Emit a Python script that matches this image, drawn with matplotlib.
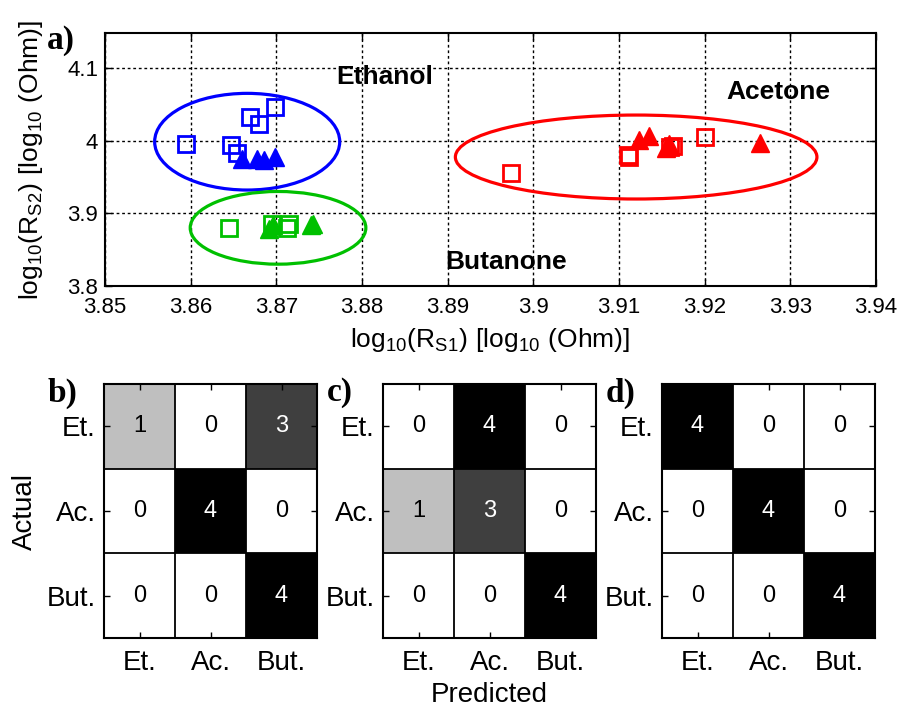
import numpy as np
import matplotlib
matplotlib.use("Agg")
import matplotlib.pyplot as plt
from matplotlib.patches import Ellipse
from matplotlib.ticker import FormatStrFormatter

plt.rcParams['font.family'] = ['Liberation Sans', 'DejaVu Sans']
plt.rcParams['mathtext.fontset'] = 'custom'
plt.rcParams['mathtext.rm'] = 'Liberation Sans'

# ---- panel a) sensor responses ----
eth_sq_x = [3.8594, 3.8647, 3.8654, 3.8669, 3.8680, 3.8698]
eth_sq_y = [3.9949, 3.9940, 3.9825, 4.0329, 4.0228, 4.0458]
eth_tr_x = [3.8660, 3.8677, 3.8686, 3.8699]
eth_tr_y = [3.9747, 3.9740, 3.9733, 3.9780]

ace_sq_x = [3.8974, 3.9111, 3.9112, 3.9160, 3.9163, 3.9200]
ace_sq_y = [3.9559, 3.9802, 3.9770, 3.9916, 3.9930, 4.0045]
ace_tr_x = [3.9123, 3.9135, 3.9158, 3.9155, 3.9265]
ace_tr_y = [4.0008, 4.0060, 3.9950, 3.9900, 3.9963]

but_sq_x = [3.8645, 3.8695, 3.8712, 3.8715]
but_sq_y = [3.8800, 3.8850, 3.8800, 3.8850]
but_tr_x = [3.8691, 3.8696, 3.8740, 3.8743]
but_tr_y = [3.8790, 3.8840, 3.8840, 3.8850]

# cluster ellipses: center x, center y, width, height
ell_eth = (3.8666, 3.9985, 0.0216, 0.133)
ell_ace = (3.9120, 3.9774, 0.0422, 0.1155)
ell_but = (3.8702, 3.8800, 0.0205, 0.100)

col_eth = '#0000ff'
col_ace = '#ff0000'
col_but = '#00c000'

x_ticks = [3.85, 3.86, 3.87, 3.88, 3.89, 3.90, 3.91, 3.92, 3.93, 3.94]
y_ticks = [3.8, 3.9, 4.0, 4.1]

# ---- panels b), c), d) confusion matrices ----
classes = ['Et.', 'Ac.', 'But.']
cm_b = [[1, 0, 3], [0, 4, 0], [0, 0, 4]]
cm_c = [[0, 4, 0], [1, 3, 0], [0, 0, 4]]
cm_d = [[4, 0, 0], [0, 4, 0], [0, 0, 4]]

fig = plt.figure(figsize=(9.01, 7.07), dpi=100)

ax = fig.add_axes([0.1165, 0.5955, 0.8558, 0.3578])
groups = [
    (eth_sq_x, eth_sq_y, eth_tr_x, eth_tr_y, col_eth, ell_eth),
    (ace_sq_x, ace_sq_y, ace_tr_x, ace_tr_y, col_ace, ell_ace),
    (but_sq_x, but_sq_y, but_tr_x, but_tr_y, col_but, ell_but),
]
for sx, sy, tx, ty, c, e in groups:
    ax.add_patch(Ellipse((e[0], e[1]), e[2], e[3], fill=False,
                         edgecolor=c, linewidth=2.3, zorder=3))
    ax.plot(sx, sy, 's', markersize=11, markerfacecolor='none',
            markeredgecolor=c, markeredgewidth=2.0, zorder=4)
    ax.plot(tx, ty, '^', markersize=13, color=c, zorder=4)

ax.set_xlim(3.85, 3.94)
ax.set_ylim(3.8, 4.148)
ax.set_xticks(x_ticks)
ax.set_yticks(y_ticks)
ax.xaxis.set_major_formatter(FormatStrFormatter('%g'))
ax.yaxis.set_major_formatter(FormatStrFormatter('%g'))
ax.grid(True, color='black', linestyle=(0, (2, 2)), linewidth=1.0)
ax.tick_params(direction='in', top=True, right=True, labelsize=16,
               length=5, width=1.0)
ax.tick_params(axis='x', pad=8)
ax.tick_params(axis='y', pad=5)
for s in ax.spines.values():
    s.set_linewidth(1.5)
ax.set_xlabel(r'$\mathregular{log_{10}(R_{S1})\ [log_{10}\ (Ohm)]}$',
              fontsize=19, labelpad=6)
ax.set_ylabel(r'$\mathregular{log_{10}(R_{S2})\ [log_{10}\ (Ohm)]}$',
              fontsize=19, labelpad=16)

ax.text(3.8826, 4.0875, 'Ethanol', fontsize=19, fontweight='bold',
        ha='center', va='center')
ax.text(3.9286, 4.067, 'Acetone', fontsize=19, fontweight='bold',
        ha='center', va='center')
ax.text(3.8968, 3.833, 'Butanone', fontsize=19, fontweight='bold',
        ha='center', va='center')

fig.text(0.052, 0.943, 'a)', fontsize=24, fontweight='bold',
         family='Liberation Serif', va='center')

# confusion matrices
cm_lefts = [104, 383, 662]
cm_list = [cm_b, cm_c, cm_d]
cm_tags = ['b)', 'c)', 'd)']
W, H = 901.0, 707.0
for i, (left, cm, tag) in enumerate(zip(cm_lefts, cm_list, cm_tags)):
    axc = fig.add_axes([left / W, 1 - 638 / H, 213 / W, 254 / H])
    m = np.array(cm)
    axc.imshow(m, cmap='gray_r', vmin=0, vmax=4, aspect='auto',
               interpolation='nearest')
    for r in range(3):
        for c in range(3):
            v = m[r, c]
            axc.text(c, r, str(v), ha='center', va='center', fontsize=17,
                     color='white' if v >= 3 else 'black')
    for k in (0.5, 1.5):
        axc.axhline(k, color='black', linewidth=1.3)
        axc.axvline(k, color='black', linewidth=1.3)
    axc.set_xticks(range(3))
    axc.set_yticks(range(3))
    axc.set_xticklabels(classes)
    axc.set_yticklabels(classes)
    axc.tick_params(direction='in', top=True, right=True, labelsize=20,
                    length=4, width=1.0)
    axc.tick_params(axis='x', pad=9)
    axc.tick_params(axis='y', pad=6)
    for s in axc.spines.values():
        s.set_linewidth(1.5)
    if i == 0:
        axc.set_ylabel('Actual', fontsize=20, labelpad=6)
    if i == 1:
        axc.set_xlabel('Predicted', fontsize=20, labelpad=4)
    fig.text((left - 56) / W, 1 - 393 / H, tag, fontsize=24,
             fontweight='bold', family='Liberation Serif', va='center')

fig.savefig('out.png', dpi=100)
